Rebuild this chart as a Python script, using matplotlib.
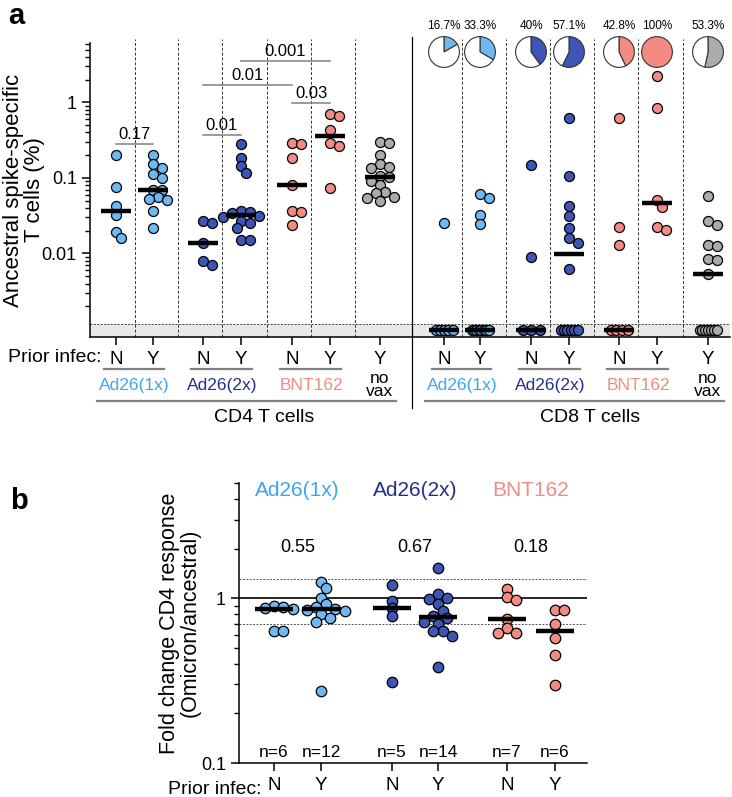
import numpy as np
import matplotlib.pyplot as plt

plt.rcParams['font.family'] = ['Liberation Sans', 'DejaVu Sans']

W, H = 732, 797

# ---------------- data, panel a: % spike-specific T cells (0 = no response)
cd4_ad1_n = [0.200, 0.075, 0.042, 0.032, 0.019, 0.016]
cd4_ad1_y = [0.200, 0.151, 0.134, 0.111, 0.100, 0.069, 0.069, 0.056, 0.052, 0.051, 0.036, 0.022]
cd4_ad2_n = [0.027, 0.025, 0.0138, 0.0080, 0.0071]
cd4_ad2_y = [0.28, 0.185, 0.143, 0.117, 0.036, 0.035, 0.034, 0.031, 0.030, 0.027, 0.025, 0.022, 0.0152, 0.0152]
cd4_bnt_n = [0.286, 0.277, 0.181, 0.080, 0.037, 0.0355, 0.0237]
cd4_bnt_y = [0.70, 0.665, 0.43, 0.292, 0.266, 0.073]
cd4_novax = [0.30, 0.29, 0.20, 0.151, 0.14, 0.136, 0.106, 0.103, 0.090, 0.080, 0.065, 0.064, 0.056, 0.054, 0.050]

cd8_ad1_n = [0.025, 0, 0, 0, 0, 0]
cd8_ad1_y = [0.061, 0.0545, 0.032, 0.0244, 0, 0, 0, 0, 0, 0, 0, 0]
cd8_ad2_n = [0.148, 0.0089, 0, 0, 0]
cd8_ad2_y = [0.614, 0.106, 0.042, 0.031, 0.022, 0.0158, 0.0136, 0.0062, 0, 0, 0, 0, 0, 0]
cd8_bnt_n = [0.614, 0.0225, 0.0129, 0, 0, 0, 0]
cd8_bnt_y = [2.25, 0.83, 0.051, 0.0415, 0.0221, 0.0204]
cd8_novax = [0.057, 0.027, 0.0237, 0.0129, 0.0126, 0.0084, 0.0082, 0.0054, 0, 0, 0, 0, 0, 0, 0]

pie_labels = ['16.7%', '33.3%', '40%', '57.1%', '42.8%', '100%', '53.3%']
prior = ['N', 'Y', 'N', 'Y', 'N', 'Y', 'Y']
vaccines = ['Ad26(1x)', 'Ad26(2x)', 'BNT162']
pvals_a = ['0.17', '0.01', '0.03', '0.01', '0.001']

# ---------------- data, panel b: fold change CD4 (Omicron/ancestral)
fc_ad1_n = [0.898, 0.89, 0.87, 0.858, 0.628, 0.628]
fc_ad1_y = [1.26, 1.15, 1.0, 0.92, 0.88, 0.86, 0.85, 0.84, 0.80, 0.757, 0.721, 0.272]
fc_ad2_n = [1.20, 0.967, 0.87, 0.782, 0.312]
fc_ad2_y = [1.52, 1.06, 1.0, 0.99, 0.92, 0.84, 0.78, 0.76, 0.72, 0.70, 0.63, 0.63, 0.59, 0.38]
fc_bnt_n = [1.13, 1.01, 0.977, 0.746, 0.658, 0.619, 0.619]
fc_bnt_y = [0.849, 0.849, 0.699, 0.573, 0.453, 0.298]
pvals_b = ['0.55', '0.67', '0.18']
prior_b = ['N', 'Y', 'N', 'Y', 'N', 'Y']

# colours
fill = ['#6EB9F2', '#6EB9F2', '#3D55B4', '#3D55B4', '#F38B82', '#F38B82', '#ABABAB']
txtcol = ['#3DA5EE', '#22308C', '#EE8C86']

cd4 = [cd4_ad1_n, cd4_ad1_y, cd4_ad2_n, cd4_ad2_y, cd4_bnt_n, cd4_bnt_y, cd4_novax]
cd8 = [cd8_ad1_n, cd8_ad1_y, cd8_ad2_n, cd8_ad2_y, cd8_bnt_n, cd8_bnt_y, cd8_novax]
fc = [fc_ad1_n, fc_ad1_y, fc_ad2_n, fc_ad2_y, fc_bnt_n, fc_bnt_y]

# layout (pixel-like x units)
x_cd4 = [116, 153, 203, 241, 292, 330, 380]
x_cd8 = [444, 480, 531, 569, 619, 657, 708]
x_b = [274, 321, 392, 438, 507, 555]
ZERO = 0.00096


def fx(px):
    return px / W


def fy(py):
    return 1 - py / H


fig = plt.figure(figsize=(W / 100, H / 100), dpi=100)
ax = fig.add_axes([fx(90), fy(337), 640 / W, 294 / H])
axb = fig.add_axes([fx(239), fy(763), 348 / W, 280 / H])


def swarm(a, x0, vals, d=10.0):
    # simple beeswarm: spread overlapping points sideways
    pts = a.transData.transform(np.column_stack([np.full(len(vals), x0), vals]))
    ys = pts[:, 1]
    placed = []
    offs = np.zeros(len(vals))
    for i in np.argsort(-ys):
        cand = 0.0
        for k in range(30):
            cand = 0.0 if k == 0 else ((k + 1) // 2) * d * 0.45 * (1 if k % 2 else -1)
            if all((cand - px) ** 2 + (ys[i] - py) ** 2 >= (d * 0.72) ** 2 for px, py in placed):
                break
        placed.append((cand, ys[i]))
        offs[i] = cand
    return offs


def style_axis(a):
    for s in ['top', 'right']:
        a.spines[s].set_visible(False)
    for s in ['left', 'bottom']:
        a.spines[s].set_linewidth(1.1)
    a.tick_params(which='major', length=6, width=1.1, labelsize=13)
    a.tick_params(which='minor', length=3.5, width=1)
    a.tick_params(axis='x', labelsize=13.5, pad=4)


# ================= panel a
ax.set_yscale('log')
ax.set_xlim(90, 730)
ax.set_ylim(0.000785, 6.1)
style_axis(ax)
ax.set_yticks([0.01, 0.1, 1])
ax.set_yticklabels(['0.01', '0.1', '1'])
minor = [m * 10.0 ** e for e in (-3, -2, -1) for m in range(2, 10)] + [2, 3, 4, 5, 6]
ax.set_yticks(minor, minor=True)
ax.yaxis.set_minor_formatter(plt.NullFormatter())
ax.set_xticks(x_cd4 + x_cd8)
ax.set_xticklabels(prior + prior)
ax.set_ylabel('Ancestral spike-specific\nT cells (%)', fontsize=16, linespacing=1.0)
ax.yaxis.set_label_coords(-0.07, 0.5)

# grey band for non-responders
ax.axhspan(0.000785, 0.00115, color='#E8E8E8', zorder=0, lw=0)
ax.axhline(0.00115, color='#444444', lw=0.7, ls=(0, (2, 1.5)), zorder=1)

allx = x_cd4 + x_cd8
for i in range(len(allx) - 1):
    xm = (allx[i] + allx[i + 1]) / 2
    if i == 6:
        ax.plot([xm, xm], [-0.24, 1.02], color='black', lw=0.9, transform=ax.get_xaxis_transform(), clip_on=False)
    else:
        ax.plot([xm, xm], [0, 1.015], color='#333333', lw=0.7, ls=(0, (3, 2)), transform=ax.get_xaxis_transform(), clip_on=False)

sc_kw = dict(s=52, edgecolors='black', linewidths=0.9, zorder=3, clip_on=False)

for j, vals in enumerate(cd4):
    v = np.array(vals, dtype=float)
    offs = swarm(ax, x_cd4[j], v)
    ax.scatter(x_cd4[j] + offs, v, color=fill[j], **sc_kw)
    ax.plot([x_cd4[j] - 15, x_cd4[j] + 15], [np.median(v)] * 2, color='black', lw=3.2, zorder=4, solid_capstyle='butt')

for j, vals in enumerate(cd8):
    v = np.array(vals, dtype=float)
    pos = v[v > 0]
    nz = int((v == 0).sum())
    if len(pos):
        offs = swarm(ax, x_cd8[j], pos)
        ax.scatter(x_cd8[j] + offs, pos, color=fill[j], **sc_kw)
    if nz:
        zx = np.linspace(-8.5, 8.5, nz) if nz > 1 else np.zeros(1)
        ax.scatter(x_cd8[j] + zx, np.full(nz, ZERO), color=fill[j], **sc_kw)
    med = np.median(np.where(v > 0, v, ZERO))
    ax.plot([x_cd8[j] - 15, x_cd8[j] + 15], [med] * 2, color='black', lw=3.2, zorder=4, solid_capstyle='butt')

    # pie of responders
    xd = ax.transData.transform((x_cd8[j], 1))[0]
    pa = fig.add_axes([(xd - 16) / W, (H - 52 - 16) / H, 32 / W, 32 / H])
    frac = len(pos) / len(v)
    parts = [p for p in (frac, 1 - frac) if p > 0]
    cols = [c for p, c in zip((frac, 1 - frac), (fill[j], 'white')) if p > 0]
    pa.pie(parts, colors=cols, startangle=90, counterclock=False,
           wedgeprops=dict(edgecolor='#333333', linewidth=0.8))
    pa.set_xlim(-1.04, 1.04)
    pa.set_ylim(-1.04, 1.04)
    pa.set_aspect('equal')
    fig.text(xd / W, fy(26), pie_labels[j], ha='center', va='center', fontsize=8.5)

# significance bars
brackets = [(0, 1, 0.278), (2, 3, 0.372), (4, 5, 0.97), (2, 4, 1.69), (3, 5, 3.52)]
for (g1, g2, lev), p in zip(brackets, pvals_a):
    ax.plot([x_cd4[g1], x_cd4[g2]], [lev, lev], color='#808080', lw=1.1, clip_on=False)
    ax.text((x_cd4[g1] + x_cd4[g2]) / 2, lev * 1.07, p, ha='center', va='bottom', fontsize=12)

# labels under panel a
fig.text(fx(8), fy(357), 'Prior infec:', ha='left', va='center', fontsize=14)
for xs in (x_cd4, x_cd8):
    for k in range(3):
        xa, xb_ = xs[2 * k], xs[2 * k + 1]
        fig.add_artist(plt.Line2D([fx(xa - 12), fx(xb_ + 11)], [fy(369), fy(369)], color='#808080', lw=1.6))
        fig.text(fx((xa + xb_) / 2), fy(385), vaccines[k], color=txtcol[k], ha='center', va='center', fontsize=12.5)
    fig.text(fx(xs[6]), fy(385), 'no\nvax', ha='center', va='center', fontsize=12.5, linespacing=0.85)
    fig.add_artist(plt.Line2D([fx(xs[0] - 19), fx(xs[6] + 16)], [fy(401), fy(401)], color='#808080', lw=1.6))
fig.text(fx(264), fy(418), 'CD4 T cells', ha='center', va='center', fontsize=14)
fig.text(fx(590), fy(418), 'CD8 T cells', ha='center', va='center', fontsize=14)

fig.text(fx(8), fy(2), 'a', fontsize=21, fontweight='bold', ha='left', va='top')
fig.text(fx(10), fy(487), 'b', fontsize=21, fontweight='bold', ha='left', va='top')

# ================= panel b
axb.set_yscale('log')
axb.set_xlim(239, 587)
axb.set_ylim(0.1, 5)
style_axis(axb)
axb.set_yticks([0.1, 1])
axb.set_yticklabels(['0.1', '1'])
minor_b = [m * 0.1 for m in range(2, 10)] + [2, 3, 4, 5]
axb.set_yticks(minor_b, minor=True)
axb.yaxis.set_minor_formatter(plt.NullFormatter())
axb.set_xticks(x_b)
axb.set_xticklabels(prior_b)
axb.set_ylabel('Fold change CD4 response\n(Omicron/ancestral)', fontsize=15.5, linespacing=1.0)
axb.yaxis.set_label_coords(-0.11, 0.5)

axb.axhline(1, color='black', lw=1.2, zorder=1)
axb.axhline(1.3, color='#555555', lw=0.7, ls=(0, (2, 1.5)), zorder=1)
axb.axhline(0.7, color='#555555', lw=0.7, ls=(0, (2, 1.5)), zorder=1)

for j, vals in enumerate(fc):
    v = np.array(vals, dtype=float)
    offs = swarm(axb, x_b[j], v, d=10.5)
    axb.scatter(x_b[j] + offs, v, color=fill[j], s=57, edgecolors='black', linewidths=0.9, zorder=3)
    axb.plot([x_b[j] - 19, x_b[j] + 19], [np.median(v)] * 2, color='black', lw=3.2, zorder=4, solid_capstyle='butt')
    axb.text(x_b[j], 0.115, 'n=%d' % len(v), ha='center', va='center', fontsize=12.5)

for k in range(3):
    xm = (x_b[2 * k] + x_b[2 * k + 1]) / 2
    axb.text(xm, 4.5, vaccines[k], color=txtcol[k], ha='center', va='center', fontsize=15)
    axb.text(xm, 2.02, pvals_b[k], ha='center', va='center', fontsize=13)

fig.text(fx(262), fy(789), 'Prior infec:', ha='right', va='center', fontsize=14)

fig.savefig('out.png', dpi=100)
